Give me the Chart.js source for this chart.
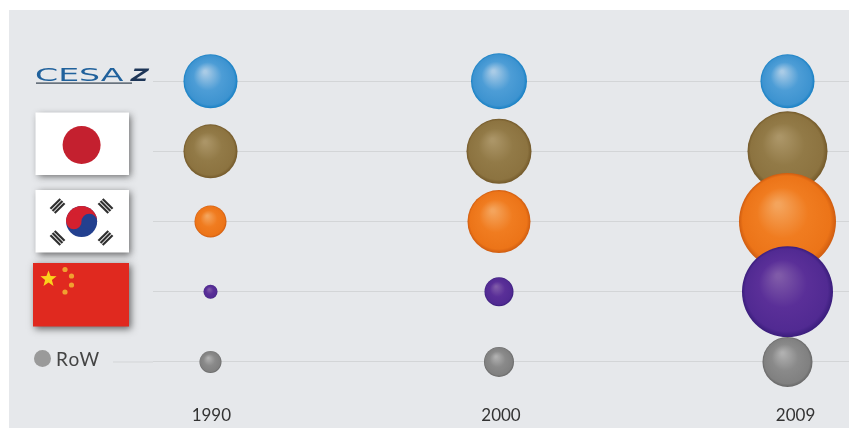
<!DOCTYPE html>
<html><head><meta charset="utf-8">
<style>html,body{margin:0;padding:0;background:#fff}#w{width:849px;height:428px;position:relative}</style>
<script src="https://cdn.jsdelivr.net/npm/chart.js@4"></script></head>
<body><div id="w"><canvas id="c" width="849" height="428"></canvas></div>
<script>
const years = ['1990', '2000', '2009'];
const rows = ['CESA Z', 'Japan', 'Korea', 'China', 'RoW'];
const cesa = [27, 28, 27];
const japan = [27, 32.5, 40];
const korea = [16, 31.5, 48.5];
const china = [7, 14.5, 45.5];
const row = [11, 15, 25];

const palettes = {
  cesa:  ['#a9cbe6', '#4d9dd6', '#3d93d0', '#1780c4'],
  japan: ['#ab9567', '#927a47', '#8c7340', '#73592a'],
  korea: ['#f4a45c', '#f07c20', '#ec7418', '#cf5c10'],
  china: ['#7f5aa8', '#5a2f98', '#512a92', '#3a1d7c'],
  row:   ['#b0b0b0', '#8a8a8a', '#808080', '#676767']
};

Chart.registry.getController('bubble').prototype.getMaxOverflow = function () { return 0; };

function sphere(p) {
  return function (ctx) {
    if (!ctx.raw) return p[1];
    const ch = ctx.chart, xs = ch.scales.x, ys = ch.scales.y;
    if (!xs || !ys) return p[1];
    const x = xs.getPixelForValue(ctx.raw.x), y = ys.getPixelForValue(ctx.raw.y), r = ctx.raw.r;
    if (!isFinite(x) || !isFinite(y)) return p[1];
    const g = ch.ctx.createRadialGradient(x - r * 0.2, y - r * 0.35, r * 0.05, x, y, r);
    g.addColorStop(0, p[0]);
    g.addColorStop(0.5, p[1]);
    g.addColorStop(0.9, p[2]);
    g.addColorStop(1, p[3]);
    return g;
  };
}
function series(name, vals, rowIndex, p) {
  return {
    label: name,
    data: vals.map((v, i) => ({ x: i, y: rowIndex, r: v })),
    backgroundColor: sphere(p),
    hoverBackgroundColor: sphere(p),
    borderWidth: 0,
    hoverBorderWidth: 0,
    clip: false
  };
}

function shadowRect(c, x, y, w, h, fill) {
  c.save();
  c.shadowColor = 'rgba(60,60,60,0.75)';
  c.shadowBlur = 7;
  c.shadowOffsetX = 2;
  c.shadowOffsetY = 2;
  c.fillStyle = fill;
  c.fillRect(x, y, w, h);
  c.restore();
}
function star(c, x, y, r, fill) {
  c.fillStyle = fill;
  c.beginPath();
  for (let i = 0; i < 10; i++) {
    const a = -Math.PI / 2 + i * Math.PI / 5, q = i % 2 ? r * 0.42 : r;
    c.lineTo(x + q * Math.cos(a), y + q * Math.sin(a));
  }
  c.closePath();
  c.fill();
}
function trigram(c, cx, cy, ang) {
  c.save();
  c.translate(cx, cy);
  c.rotate(ang);
  c.fillStyle = '#2f2f2f';
  for (let i = -1; i <= 1; i++) c.fillRect(-7, i * 3 - 1.1, 14, 2.2);
  c.restore();
}
const decor = {
  id: 'decor',
  beforeDraw(ch) {
    const c = ch.ctx;
    c.save();
    c.fillStyle = '#fff';
    c.fillRect(0, 0, 849, 428);
    c.fillStyle = '#e6e8eb';
    c.fillRect(9, 10, 840, 418);
    c.strokeStyle = '#d3d5d7';
    c.lineWidth = 1;
    c.beginPath();
    c.moveTo(113, 362);
    c.lineTo(153, 362);
    c.stroke();
    c.restore();
  },
  beforeDatasetsDraw(ch) {
    const c = ch.ctx;
    c.save();
    // CESA Z logo
    c.textBaseline = 'alphabetic';
    c.textAlign = 'left';
    c.save();
    c.translate(35, 81);
    c.scale(1.95, 1);
    c.font = '400 17px "DejaVu Sans"';
    c.fillStyle = '#20619c';
    c.fillText('CESA', 0, 0);
    c.restore();
    c.save();
    c.translate(129, 81);
    c.transform(1.4, 0, -0.35, 1, 0, 0);
    c.font = '700 17px "DejaVu Sans"';
    c.fillStyle = '#1d3557';
    c.fillText('Z', 0, 0);
    c.restore();
    c.fillStyle = '#33414f';
    c.fillRect(36, 82.5, 96, 1.2);

    // Japan
    shadowRect(c, 35.5, 112.5, 93.5, 62.5, '#ffffff');
    c.fillStyle = '#c4202f';
    c.beginPath();
    c.arc(81.6, 145, 19, 0, Math.PI * 2);
    c.fill();

    // Korea
    shadowRect(c, 35.5, 190, 93.5, 62.5, '#ffffff');
    const kx = 81.6, ky = 221.5, kr = 15.5;
    c.fillStyle = '#23408f';
    c.beginPath(); c.arc(kx, ky, kr, 0, Math.PI * 2); c.fill();
    c.fillStyle = '#d3202f';
    c.beginPath(); c.arc(kx, ky, kr, Math.PI, 0); c.closePath(); c.fill();
    c.beginPath(); c.arc(kx - 7.7, ky, 7.8, 0, Math.PI * 2); c.fill();
    c.fillStyle = '#23408f';
    c.beginPath(); c.arc(kx + 7.7, ky, 7.8, 0, Math.PI * 2); c.fill();
    trigram(c, 57.5, 206, -Math.PI / 4);
    trigram(c, 105.5, 206, Math.PI / 4);
    trigram(c, 57.5, 238, Math.PI / 4);
    trigram(c, 105.5, 238, -Math.PI / 4);

    // China
    shadowRect(c, 33, 263, 96, 63.5, '#e0291f');
    star(c, 48.5, 279, 8.5, '#fbd21c');
    [[65, 269.5], [71.5, 276], [71.5, 285], [65, 292]].forEach(p => {
      c.fillStyle = '#f0a030';
      c.beginPath(); c.arc(p[0], p[1], 2.6, 0, Math.PI * 2); c.fill();
    });

    // RoW legend
    c.fillStyle = '#9a9a9a';
    c.beginPath(); c.arc(42.5, 358.5, 8.5, 0, Math.PI * 2); c.fill();
    c.fillStyle = '#444';
    c.font = '400 19px Lato';
    c.letterSpacing = '1.2px';
    c.textBaseline = 'middle';
    c.fillText(rows[4], 56, 360);
    c.restore();
  }
};

new Chart(document.getElementById('c'), {
  type: 'bubble',
  data: {
    datasets: [
      series(rows[4], row, 4, palettes.row),
      series(rows[3], china, 3, palettes.china),
      series(rows[2], korea, 2, palettes.korea),
      series(rows[1], japan, 1, palettes.japan),
      series(rows[0], cesa, 0, palettes.cesa)
    ]
  },
  plugins: [decor],
  options: {
    responsive: false,
    animation: false,
    events: [],
    layout: { padding: { left: 153, top: 11, right: 0, bottom: 0 } },
    plugins: { legend: { display: false }, tooltip: { enabled: false } },
    scales: {
      x: {
        type: 'linear',
        min: -0.1993,
        max: 2.2132,
        afterBuildTicks(s) { s.ticks = [0.003, 1.007, 2.028].map(v => ({ value: v })); },
        afterFit(s) { s.height = 31; },
        grid: { display: false, drawTicks: false },
        border: { display: false },
        ticks: {
          padding: 8,
          maxRotation: 0,
          color: '#333',
          font: { family: 'Lato', size: 17 },
          callback(v) { return years[Math.round(v)]; }
        }
      },
      y: {
        type: 'linear',
        reverse: true,
        min: -1,
        max: 4.5,
        afterBuildTicks(s) { s.ticks = rows.map((_, i) => ({ value: i })); },
        afterFit(s) { s.width = 0; },
        grid: { color: '#d3d5d7', lineWidth: 1, drawTicks: false },
        border: { display: false },
        ticks: { display: false }
      }
    }
  }
});
</script></body></html>
